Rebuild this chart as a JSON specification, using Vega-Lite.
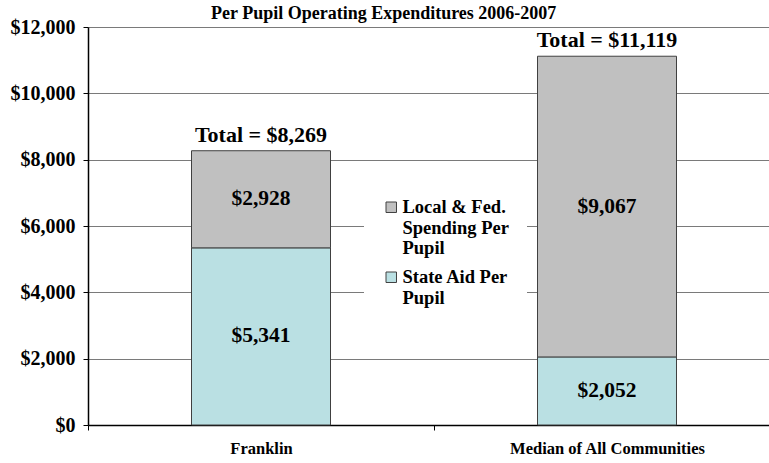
{
  "$schema": "https://vega.github.io/schema/vega-lite/v6.json",
  "width": 681,
  "height": 398,
  "autosize": {"type": "none"},
  "padding": {"left": 88, "top": 27, "right": 0, "bottom": 38},
  "title": {
    "text": "Per Pupil Operating Expenditures 2006-2007",
    "anchor": "start",
    "frame": "group",
    "dx": 123,
    "fontSize": 18,
    "font": "Liberation Serif",
    "fontWeight": "bold",
    "color": "black",
    "offset": -6
  },
  "config": {
    "font": "Liberation Serif",
    "view": {"stroke": null},
    "axis": {"labelFont": "Liberation Serif", "labelFontWeight": "bold", "labelColor": "black"},
    "legend": {"labelFont": "Liberation Serif", "labelFontWeight": "bold", "labelColor": "black"}
  },
  "datasets": {
    "spend": [
      {"place": "Franklin", "type": "State Aid Per Pupil", "value": 5341},
      {"place": "Franklin", "type": "Local & Fed. Spending Per Pupil", "value": 2928},
      {"place": "Median of All Communities", "type": "State Aid Per Pupil", "value": 2052},
      {"place": "Median of All Communities", "type": "Local & Fed. Spending Per Pupil", "value": 9067}
    ],
    "totals": [
      {"place": "Franklin", "total": 8269, "label": "Total = $8,269"},
      {"place": "Median of All Communities", "total": 11119, "label": "Total = $11,119"}
    ]
  },
  "layer": [
    {
      "data": {"name": "spend"},
      "mark": {"type": "bar", "width": 139, "stroke": "#404040", "strokeWidth": 1},
      "encoding": {
        "x": {
          "field": "place", "type": "nominal", "sort": null,
          "scale": {"range": [0, 692], "paddingInner": 0, "paddingOuter": 0},
          "axis": {
            "title": null, "labelAngle": 0, "tickBand": "extent", "labelLimit": 400,
            "labelFont": "Liberation Serif", "labelFontWeight": "bold", "labelFontSize": 16.5,
            "labelColor": "black", "labelPadding": 10, "tickSize": 5, "tickColor": "black",
            "domainColor": "black", "domainWidth": 1.5
          }
        },
        "y": {
          "field": "value", "type": "quantitative", "stack": "zero",
          "scale": {"domain": [0, 12000]},
          "axis": {
            "title": null, "values": [0, 2000, 4000, 6000, 8000, 10000, 12000], "format": "$,.0f",
            "labelFont": "Liberation Serif", "labelFontWeight": "bold", "labelFontSize": 20,
            "labelColor": "black", "labelPadding": 8, "tickSize": 5, "tickColor": "black",
            "domainColor": "black", "domainWidth": 1.5, "grid": true, "gridColor": "#7a7a7a", "gridWidth": 1
          }
        },
        "color": {
          "field": "type", "type": "nominal",
          "scale": {
            "domain": ["Local & Fed. Spending Per Pupil", "State Aid Per Pupil"],
            "range": ["#C0C0C0", "#BAE0E3"]
          },
          "legend": {
            "orient": "none", "legendX": 276, "legendY": 153, "title": null,
            "fillColor": "white", "padding": 18,
            "symbolType": "square", "symbolSize": 110, "symbolStrokeColor": "#404040", "symbolStrokeWidth": 1,
            "labelFont": "Liberation Serif", "labelFontWeight": "bold", "labelFontSize": 18.5, "labelColor": "black",
            "labelLimit": 300, "rowPadding": 10, "labelLineHeight": 18.5, "labelOffset": 2,
            "labelExpr": "datum.label == 'State Aid Per Pupil' ? ['State Aid Per', 'Pupil'] : ['Local & Fed.', 'Spending Per', 'Pupil']"
          }
        },
        "order": {"field": "type", "sort": "descending"}
      }
    },
    {
      "data": {"name": "spend"},
      "mark": {"type": "text", "font": "Liberation Serif", "fontWeight": "bold", "fontSize": 21.5, "color": "black"},
      "encoding": {
        "x": {"field": "place", "type": "nominal", "sort": null},
        "y": {"field": "value", "type": "quantitative", "stack": "zero", "bandPosition": 0.5},
        "detail": {"field": "type"},
        "text": {"field": "value", "format": "$,"},
        "order": {"field": "type", "sort": "descending"}
      }
    },
    {
      "data": {"name": "totals"},
      "mark": {"type": "text", "font": "Liberation Serif", "fontWeight": "bold", "fontSize": 22, "color": "black", "baseline": "alphabetic", "dy": -9},
      "encoding": {
        "x": {"field": "place", "type": "nominal", "sort": null},
        "y": {"field": "total", "type": "quantitative"},
        "text": {"field": "label"}
      }
    }
  ]
}
